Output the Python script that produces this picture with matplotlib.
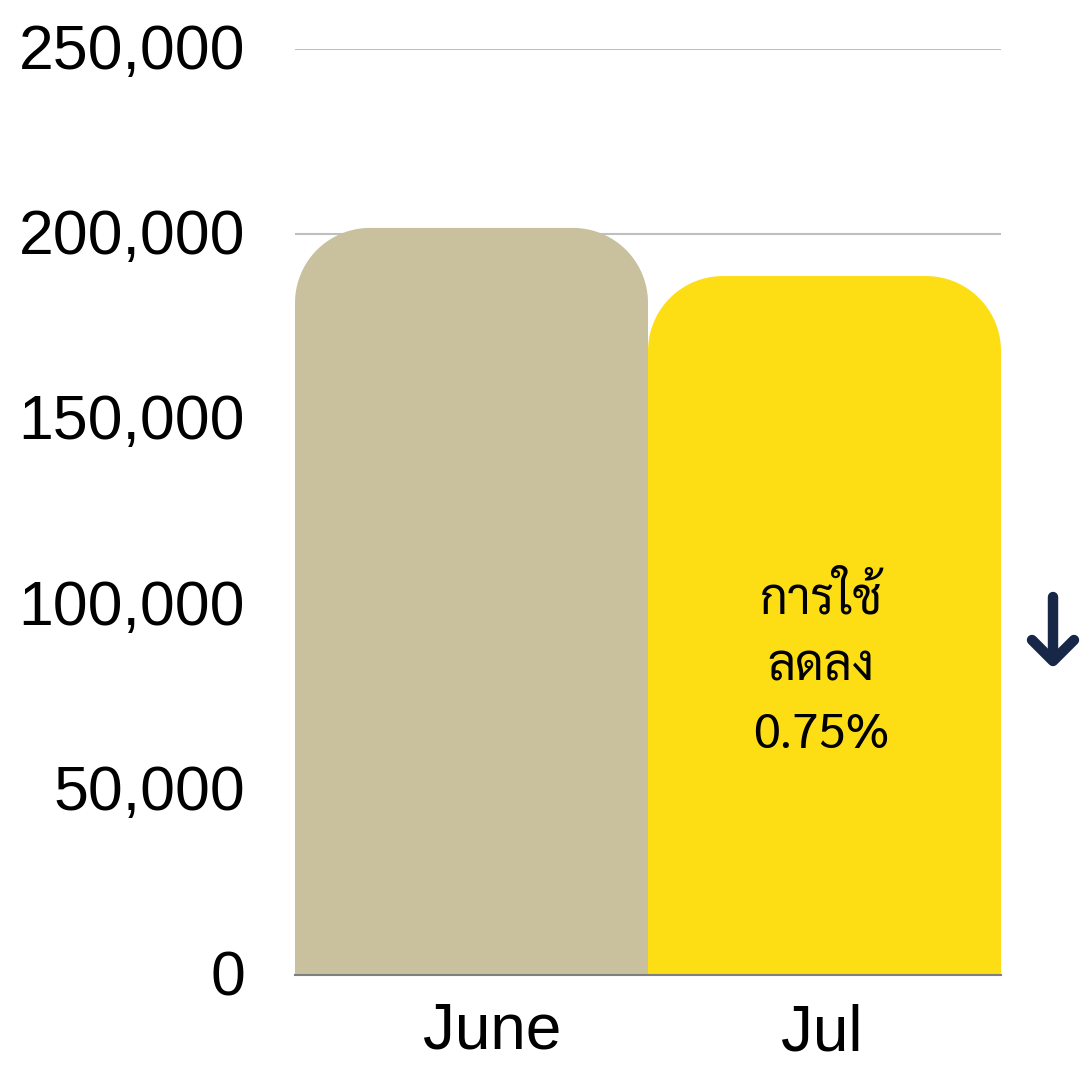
import matplotlib
matplotlib.use("Agg")
import matplotlib.pyplot as plt
import matplotlib.transforms as mtransforms
from matplotlib.patches import Polygon
from matplotlib.lines import Line2D
from matplotlib.ticker import FuncFormatter
import numpy as np

months = ['June', 'Jul']
usage = [201700, 188700]
bar_colors = ['#C9C09E', '#FDDD13']
yticks = [0, 50000, 100000, 150000, 200000, 250000]
note = 'การใช้\nลดลง\n0.75%'

W, H = 1080, 1065
fig = plt.figure(figsize=(W / 100, H / 100), dpi=100)
ax = fig.add_axes([295 / W, (H - 975) / H, 706 / W, 926 / H])

x = np.arange(len(months))
ax.set_xlim(-0.5, len(months) - 0.5)
ax.set_ylim(0, 250000)

# rounded top corners, circular in pixels
radius_px = 75
rx = radius_px / (706 / len(months))
ry = radius_px * 250000 / 926


def top_rounded(left, width, height):
    t = np.linspace(0, np.pi / 2, 30)
    right = left + width
    pts = [(left, 0), (left, height - ry)]
    pts += list(zip(left + rx - rx * np.cos(t), height - ry + ry * np.sin(t)))
    pts += list(zip(right - rx + rx * np.sin(t), height - ry + ry * np.cos(t)))
    pts += [(right, height - ry), (right, 0)]
    return pts


for xi, v, c in zip(x, usage, bar_colors):
    ax.add_patch(Polygon(top_rounded(xi - 0.5, 1.0, v), closed=True,
                         fc=c, ec='none', lw=0, zorder=2))

ax.set_yticks(yticks)
ax.yaxis.set_major_formatter(FuncFormatter(lambda v, p: '{:,}'.format(int(v))))
ax.grid(axis='y', color='#BFBFBF', lw=1.5, zorder=0)
ax.set_axisbelow(True)
for s in ['top', 'right', 'left']:
    ax.spines[s].set_visible(False)
ax.spines['bottom'].set_color('#7F7F7F')
ax.spines['bottom'].set_linewidth(1.5)
ax.spines['bottom'].set_zorder(3)

ax.tick_params(axis='y', length=0, pad=36, labelsize=45)
ax.tick_params(axis='x', length=0, pad=19, labelsize=46)
for lab in ax.get_yticklabels():
    lab.set_fontfamily('Liberation Sans')
    lab.set_transform(lab.get_transform() +
                      mtransforms.ScaledTranslation(0, 3 / 100, fig.dpi_scale_trans))

ax.set_xticks(x)
ax.set_xticklabels(months, fontfamily='Liberation Sans')
offsets = [(21, 0), (-3, -2)]
for lab, (dx, dy) in zip(ax.get_xticklabels(), offsets):
    lab.set_transform(lab.get_transform() +
                      mtransforms.ScaledTranslation(dx / 100, dy / 100, fig.dpi_scale_trans))

ax.text(x[1] - 0.01, 83000, note, ha='center', va='center', fontsize=35,
        family=['Sarabun', 'DejaVu Sans'], linespacing=1.5, zorder=4)

# down arrow at right
navy = '#172748'


def fx(px):
    return px / W


def fy(py):
    return (H - py) / H


arrow_kw = dict(color=navy, lw=7.5, solid_capstyle='round', solid_joinstyle='round',
                transform=fig.transFigure)
fig.add_artist(Line2D([fx(1053), fx(1053)], [fy(597), fy(660)], **arrow_kw))
fig.add_artist(Line2D([fx(1032), fx(1053), fx(1074)], [fy(640), fy(661), fy(640)], **arrow_kw))

fig.savefig('out.png', dpi=100)
